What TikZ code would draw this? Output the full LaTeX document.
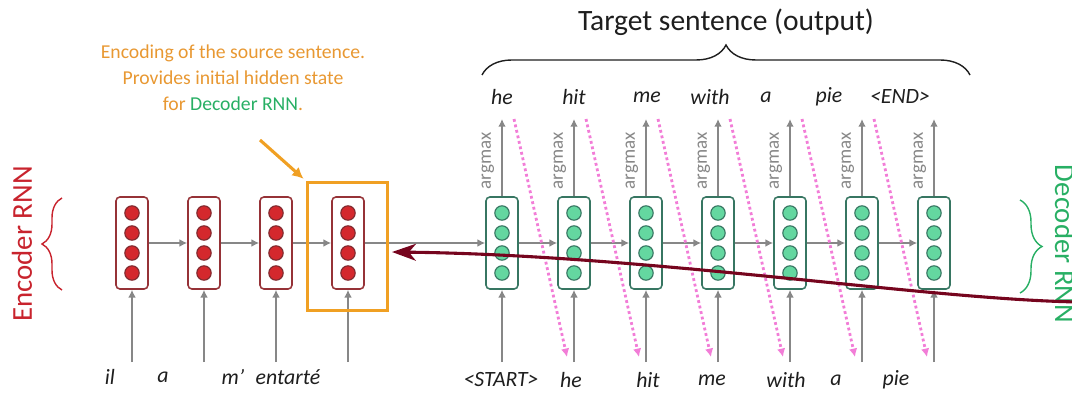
\documentclass[tikz,border=0pt]{standalone}
\usepackage{fontspec}
\setmainfont{Carlito}
\usepackage{tikz}
\usetikzlibrary{%
  calc,%
  fit,%
  arrows.meta,%
  decorations.pathreplacing%
}
\definecolor{encred}{RGB}{200,35,45}
\definecolor{encline}{RGB}{150,50,55}
\definecolor{encdot}{RGB}{212,40,45}
\definecolor{decline}{RGB}{55,118,98}
\definecolor{decdot}{RGB}{100,215,160}
\definecolor{decgreen}{RGB}{40,175,100}
\definecolor{noteorange}{RGB}{232,152,50}
\definecolor{boxorange}{RGB}{240,160,35}
\definecolor{feedpink}{RGB}{242,125,215}
\definecolor{backred}{RGB}{118,5,30}
\definecolor{flowgray}{RGB}{135,135,135}
\definecolor{ink}{RGB}{30,30,30}

\begin{document}
\begin{tikzpicture}[x=0.025cm,y=-0.025cm,
  cellE/.style={draw=encline,line width=1.1pt,rounded corners=2.8pt,fill=white,
    minimum width=0.8cm,minimum height=2.3cm,inner sep=0pt},
  cellD/.style={cellE,draw=decline},
  dotE/.style={circle,draw=encline!85!black,line width=0.8pt,fill=encdot,
    minimum size=0.36cm,inner sep=0pt},
  dotD/.style={dotE,draw=decline,fill=decdot},
  flow/.style={draw=flowgray,line width=1.1pt,-{Latex[length=5.5pt,width=5.5pt]}},
  feed/.style={draw=feedpink,line width=2pt,dash pattern=on 2pt off 2pt,
    -{Latex[length=6pt,width=6pt]}},
  word/.style={font=\fontsize{15.5}{18}\selectfont\itshape,text=ink,inner sep=0pt},
  argm/.style={font=\fontsize{13.5}{16}\selectfont,text=flowgray,rotate=90,inner sep=0pt},
  side/.style={font=\fontsize{20.5}{24}\selectfont,inner sep=0pt},
  brc/.style={decorate,decoration={brace,amplitude=#1},line width=1pt},
  encbox/.style={draw=boxorange,line width=2.2pt,inner sep=0pt},
  back/.style={draw=backred,line width=2.2pt,-{Stealth[length=17pt,width=12pt,inset=5pt]}}
]
\useasboundingbox (0,0) rectangle (1072,393);

% encoder
\foreach \i/\x in {1/132,2/204,3/276,4/348}{
  \node[cellE] (e\i) at (\x,243) {};
  \foreach \k/\y in {1/-30,2/-10,3/10,4/30}
    \node[dotE] (e\i-\k) at ($(e\i)+(0,\y)$) {};
  \coordinate (ein\i) at (\x,362);
  \draw[flow] (ein\i) -- (e\i.south);
}
\foreach \i/\j in {1/2,2/3,3/4}
  \draw[flow] (e\i) -- (e\j);

\node[word] (ew1) at (110,377) {il};
\node[word] (ew2) at (163,377) {a};
\node[word] (ew3) at (233,377) {m’};
\node[word] (ew4) at (288,377) {entarté};

% decoder
\foreach \i/\x in {1/502,2/574,3/646,4/718,5/790,6/862,7/934}{
  \node[cellD] (d\i) at (\x,243) {};
  \foreach \k/\y in {1/-30,2/-10,3/10,4/30}
    \node[dotD] (d\i-\k) at ($(d\i)+(0,\y)$) {};
  \coordinate (din\i) at (\x,362);
  \coordinate (dout\i) at (\x,119);
  \draw[flow] (din\i) -- (d\i.south);
  \draw[flow] (d\i.north) -- (dout\i);
  \node[argm] (am\i) at (\x-14,161) {argmax};
}
\draw[flow] (e4) -- (d1);
\foreach \i/\j in {1/2,2/3,3/4,4/5,5/6,6/7}
  \draw[flow] (d\i) -- (d\j);
\foreach \i/\j in {1/2,2/3,3/4,4/5,5/6,6/7}
  \draw[feed] ($(dout\i)+(12,0)$) -- ($(din\j)+(-7,-5)$);

\node[word] (dw1) at (501,380) {<START>};
\node[word] (dw2) at (571,380) {he};
\node[word] (dw3) at (648,380) {hit};
\node[word] (dw4) at (712,380) {me};
\node[word] (dw5) at (786,380) {with};
\node[word] (dw6) at (836,380) {a};
\node[word] (dw7) at (896,380) {pie};

\node[word] (ow1) at (502,97) {he};
\node[word] (ow2) at (574,97) {hit};
\node[word] (ow3) at (647,97) {me};
\node[word] (ow4) at (710,97) {with};
\node[word] (ow5) at (766,97) {a};
\node[word] (ow6) at (829,97) {pie};
\node[word] (ow7) at (900,97) {<END>};

% target sentence
\coordinate (tl) at (482,75);
\coordinate (tr) at (970,75);
\draw[brc=0.75cm,draw=ink] (tl) -- (tr);
\node[font=\fontsize{21}{25}\selectfont,text=ink] (tgt) at (726,22) {Target sentence (output)};

% side labels
\node[side,text=encred,rotate=90] (encl) at (22,244) {Encoder RNN};
\coordinate (eb1) at (62,290);
\coordinate (eb2) at (62,198);
\draw[brc=0.5cm,draw=encred] (eb1) -- (eb2);
\node[side,text=decgreen,rotate=-90] (decl) at (1065,244) {Decoder RNN};
\coordinate (db1) at (1020,200);
\coordinate (db2) at (1020,293);
\draw[brc=0.55cm,draw=decgreen] (db1) -- (db2);

% encoding note
\coordinate (enc-a) at ($(e4.north west)+(-24,-14)$);
\coordinate (enc-b) at ($(e4.south east)+(23,21)$);
\node[encbox,fit=(enc-a)(enc-b)] (enc) {};
\node[font=\fontsize{14}{18.5}\selectfont,text=noteorange,align=center] (note) at (233,78)
  {Encoding of the source sentence.\\ Provides initial hidden state\\ for \textcolor{decgreen}{Decoder RNN}.};
\coordinate (na) at (260,140);
\draw[draw=boxorange,line width=2.2pt,-{Latex[length=8pt,width=8pt]},shorten >=2pt] (na) -- (enc.north west);

% back arrow
\coordinate (bk0) at (1080,302);
\coordinate (bk1) at (392,252);
\draw[back] (bk0) .. controls (930,300) and (650,255) .. (bk1);
\end{tikzpicture}
\end{document}
